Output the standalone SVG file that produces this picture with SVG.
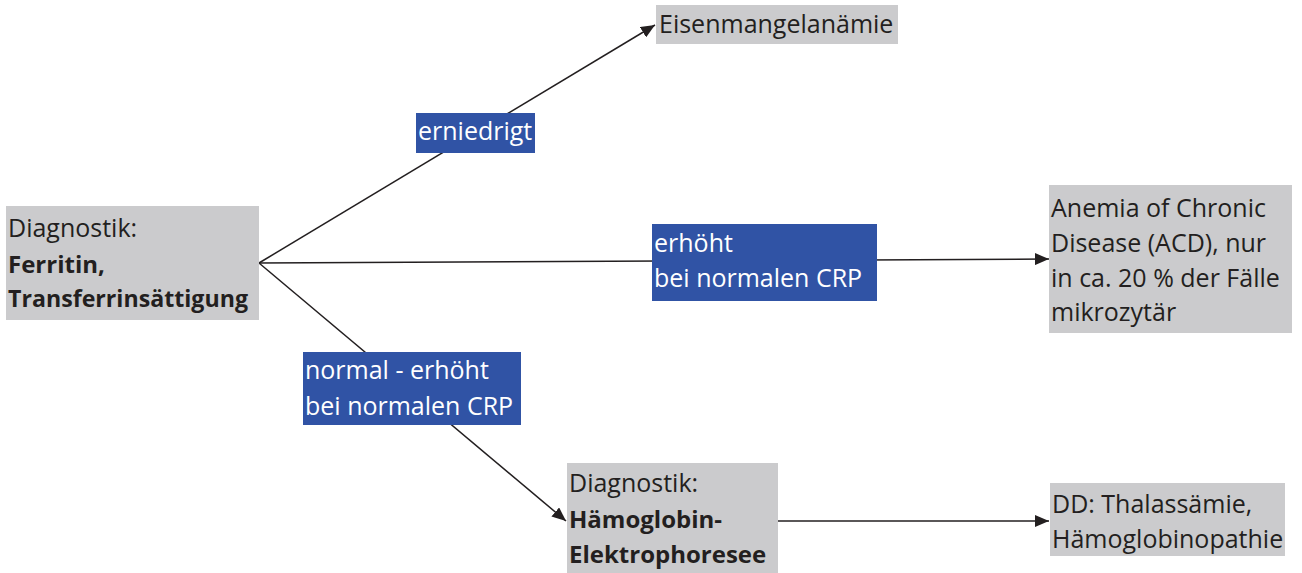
<svg xmlns="http://www.w3.org/2000/svg" width="1302" height="573" viewBox="0 0 1302 573">
<defs>
<style>
.box{fill:#CBCBCD}
.lab{fill:#3053A5}
text{font-family:"Open Sans","Liberation Sans",sans-serif;font-size:25px;fill:#231F20}
.w{fill:#FFFFFF}
.b{font-weight:bold;font-size:24px}
.c{stroke:#231F20;stroke-width:1.5;fill:none}
</style>
<marker id="ah" markerWidth="14" markerHeight="12" refX="14" refY="6" orient="auto" markerUnits="userSpaceOnUse">
<path d="M0,0 L14,6 L0,12 Z" fill="#231F20"/>
</marker>
</defs>
<rect width="1302" height="573" fill="#FFFFFF"/>
<g id="connectors">
<line class="c" x1="259" y1="263" x2="655" y2="25" marker-end="url(#ah)"/>
<line class="c" x1="259" y1="263" x2="1049" y2="259" marker-end="url(#ah)"/>
<line class="c" x1="259" y1="263" x2="566" y2="521" marker-end="url(#ah)"/>
<line class="c" x1="778" y1="521" x2="1049" y2="521" marker-end="url(#ah)"/>
</g>
<g id="start">
<rect class="box" x="6" y="206" width="253" height="114"/>
<text x="8" y="237">Diagnostik:</text>
<text x="8" y="273" class="b">Ferritin,</text>
<text x="8" y="307" class="b" textLength="240" lengthAdjust="spacingAndGlyphs">Transferrinsättigung</text>
</g>
<g id="eisenmangel">
<rect class="box" x="656" y="5" width="242" height="39"/>
<text x="659" y="33">Eisenmangelanämie</text>
</g>
<g id="label-erniedrigt">
<rect class="lab" x="416" y="113" width="119" height="40"/>
<text class="w" x="418" y="140">erniedrigt</text>
</g>
<g id="label-erhoeht">
<rect class="lab" x="652" y="224" width="225" height="77"/>
<text class="w" x="654" y="252">erhöht</text>
<text class="w" x="654" y="287">bei normalen CRP</text>
</g>
<g id="acd">
<rect class="box" x="1049" y="185" width="243" height="148"/>
<text x="1051" y="217">Anemia of Chronic</text>
<text x="1051" y="252">Disease (ACD), nur</text>
<text x="1051" y="287">in ca. 20 % der Fälle</text>
<text x="1051" y="321">mikrozytär</text>
</g>
<g id="label-normal">
<rect class="lab" x="303" y="352" width="218" height="73"/>
<text class="w" x="305" y="379">normal - erhöht</text>
<text class="w" x="305" y="415">bei normalen CRP</text>
</g>
<g id="haemoglobin">
<rect class="box" x="567" y="463" width="211" height="110"/>
<text x="569" y="492">Diagnostik:</text>
<text x="569" y="528" class="b">Hämoglobin-</text>
<text x="569" y="563" class="b">Elektrophoresee</text>
</g>
<g id="dd">
<rect class="box" x="1050" y="483" width="235" height="73"/>
<text x="1052" y="513">DD: Thalassämie,</text>
<text x="1052" y="548">Hämoglobinopathie</text>
</g>
</svg>
